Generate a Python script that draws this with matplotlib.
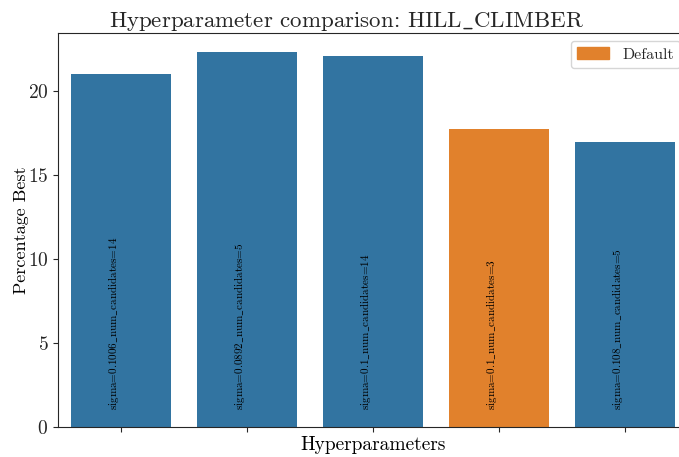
import matplotlib
matplotlib.use('Agg')
import matplotlib.pyplot as plt
from matplotlib.patches import Patch

# data
labels = ['sigma=0.1006_num_candidates=14', 'sigma=0.0892_num_candidates=5',
          'sigma=0.1_num_candidates=14', 'sigma=0.1_num_candidates=3',
          'sigma=0.108_num_candidates=5']
values = [21.0, 22.3, 22.1, 17.75, 16.95]
is_default = [False, False, False, True, False]

blue = '#3274a1'
orange = '#e1812c'

plt.rcParams['font.family'] = ['cmr10', 'DejaVu Serif']
plt.rcParams['mathtext.fontset'] = 'cm'
plt.rcParams['axes.formatter.use_mathtext'] = True
plt.rcParams['axes.edgecolor'] = '#262626'
plt.rcParams['xtick.color'] = '#262626'
plt.rcParams['ytick.color'] = '#262626'
plt.rcParams['text.color'] = '#262626'


def us(s):
    # cmr10 has no underscore glyph, draw it through mathtext
    return s.replace('_', r'$\_$')


fig = plt.figure(figsize=(6.79, 4.57), dpi=100)
ax = fig.add_axes([0.0854, 0.0656, 0.928, 0.862])

x = range(len(values))
colors = [orange if d else blue for d in is_default]
ax.bar(x, values, width=0.8, color=colors)

for i, lab in enumerate(labels):
    ax.text(i, 1.0, us(lab), rotation=90, ha='right', va='bottom', fontsize=8, color='black')

ax.set_xlim(-0.5, 4.5)
ax.set_ylim(0, 23.45)
ax.set_xticks(list(x))
ax.set_xticklabels([])
ax.set_yticks([0, 5, 10, 15, 20])
ax.tick_params(axis='y', labelsize=14)
ax.spines['right'].set_visible(False)

ax.set_title(us('Hyperparameter comparison: HILL_CLIMBER'), fontsize=16.5, pad=3, x=0.457)
ax.set_xlabel('Hyperparameters', fontsize=14, labelpad=-0.5)
ax.set_ylabel('Percentage Best', fontsize=13, labelpad=-1)

ax.legend(handles=[Patch(color=orange, label='Default')], loc='upper right', fontsize=11.5)

fig.savefig('out.png', dpi=100)
